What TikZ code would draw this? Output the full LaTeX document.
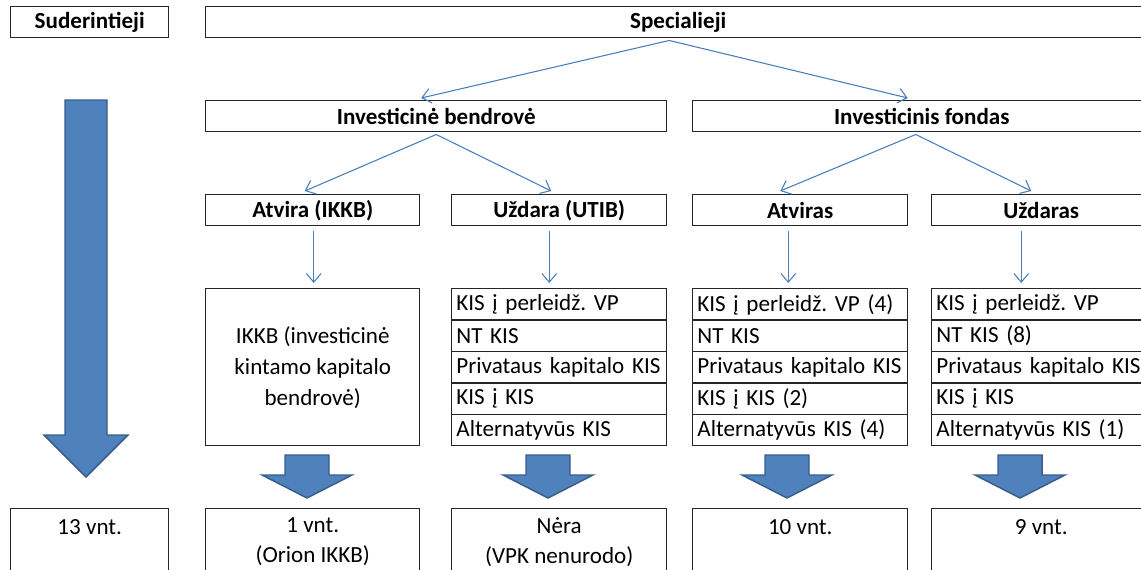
\documentclass[tikz,border=0pt]{standalone}
\usepackage{fontspec}
\setmainfont{Carlito}
\frenchspacing
\usetikzlibrary{arrows.meta,calc}

\definecolor{arrowblue}{RGB}{79,129,189}
\definecolor{arrowedge}{RGB}{56,93,138}
\definecolor{linkblue}{RGB}{74,126,187}

\tikzset{
	box/.style={draw=black!85, line width=1.1pt, anchor=north west, inner sep=0pt, minimum height=23.25pt, font=\fontsize{17.3}{20}\selectfont\bfseries},
	rowbox/.style={draw=black!85, line width=1.1pt, anchor=north west, inner xsep=3.5pt, inner ysep=0pt, minimum height=23.55pt, align=left, font=\fontsize{17.3}{20}\selectfont},
	countbox/.style={draw=black!85, line width=1.1pt, anchor=north west, inner sep=0pt, minimum height=50pt, align=center, font=\fontsize{17.3}{22.5}\selectfont},
	link/.style={draw=linkblue, line width=0.8pt, -{Straight Barb[length=6.5pt, width=11pt]}},
	blockarrow/.style={fill=arrowblue, draw=arrowedge, line width=1.1pt, line join=miter}
}

\begin{document}
\begin{tikzpicture}[x=0.75pt, y=-0.75pt]
	\path[use as bounding box, clip] (0,0) rectangle (1141,569);
	% header row
	\node[box, minimum width=118.5pt] (sud) at (10,6) {Suderintieji};
	\node[box, minimum width=708.75pt] (spec) at (205,6) {Specialieji};
	% second level
	\node[box, minimum width=345.75pt] (ib) at (205,100) {Investicinė bendrovė};
	\node[box, minimum width=343.5pt] (if) at (692,100) {Investicinis fondas};
	% third level
	\node[box, minimum width=160.5pt] (atva) at (205,194) {Atvira (IKKB)};
	\node[box, minimum width=161.25pt] (uza) at (451,194) {Uždara (UTIB)};
	\node[box, minimum width=161.25pt] (atvb) at (692,194) {Atviras};
	\node[box, minimum width=164.25pt] (uzb) at (931,194) {Uždaras};
	% type lists
	\node[box, minimum width=160.5pt, minimum height=117.75pt, font=\fontsize{17.3}{23.25}\selectfont, align=center] (ikkb) at (205,288) {IKKB (investicinė\\kintamo kapitalo\\bendrovė)};
	\foreach \t [count=\i] in {KIS į perleidž. VP, NT KIS, Privataus kapitalo KIS, KIS į KIS, Alternatyvūs KIS}
		\node[rowbox, text width=154.25pt] (uzl\i) at (451,{288+31.4*(\i-1)}) {\t};
	\foreach \t [count=\i] in {KIS į perleidž. VP (4), NT KIS, Privataus kapitalo KIS, KIS į KIS (2), Alternatyvūs KIS (4)}
		\node[rowbox, text width=154.25pt] (atl\i) at (692,{288+31.4*(\i-1)}) {\t};
	\foreach \t [count=\i] in {KIS į perleidž. VP, NT KIS (8), Privataus kapitalo KIS, KIS į KIS, Alternatyvūs KIS (1)}
		\node[rowbox, text width=157.25pt] (ufl\i) at (931,{288+31.4*(\i-1)}) {\t};
	% counts
	\node[countbox, minimum width=118.5pt] (sudn) at (10,508) {13 vnt.\\\mbox{}};
	\node[countbox, minimum width=160.5pt] (ikkbn) at (205,508) {1 vnt.\\(Orion IKKB)};
	\node[countbox, minimum width=161.25pt] (uzan) at (451,508) {Nėra\\(VPK nenurodo)};
	\node[countbox, minimum width=161.25pt] (atvn) at (692,508) {10 vnt.\\\mbox{}};
	\node[countbox, minimum width=164.25pt] (uzbn) at (931,508) {9 vnt.\\\mbox{}};
	% thin connectors
	\draw[link] ($(spec.south)+(-9,2)$) -- ($(ib.north)+(-15,-2)$);
	\draw[link] ($(spec.south)+(-9,2)$) -- ($(if.north)+(-14,-2)$);
	\draw[link] ($(ib.south)+(0,2)$) -- ($(atva.north)+(-8,-3)$);
	\draw[link] ($(ib.south)+(0,2)$) -- ($(uza.north)+(-8,-3)$);
	\draw[link] ($(if.south)+(-6,2)$) -- ($(atvb.north)+(-20,-3)$);
	\draw[link] ($(if.south)+(-6,2)$) -- ($(uzb.north)+(-10,-3)$);
	\draw[link] ($(atva.south)+(1,5)$) -- ($(ikkb.north)+(1,-5)$);
	\draw[link] ($(uza.south)+(-10,5)$) -- ($(uzl1.north)+(-10,-5)$);
	\draw[link] ($(atvb.south)+(-12,5)$) -- ($(atl1.north)+(-12,-5)$);
	\draw[link] ($(uzb.south)+(-20,5)$) -- ($(ufl1.north)+(-20,-5)$);
	% big arrow on the left
	\draw[blockarrow] (65,100) -- (107,100) -- (107,435) -- (128,435) -- (86,477) -- (44,435) -- (65,435) -- cycle;
	% small block arrows
	\foreach \x in {307,548,787,1020}
		\draw[blockarrow] (\x-22,455) -- (\x+22,455) -- (\x+22,475) -- (\x+45,475) -- (\x,498) -- (\x-45,475) -- (\x-22,475) -- cycle;
\end{tikzpicture}
\end{document}
